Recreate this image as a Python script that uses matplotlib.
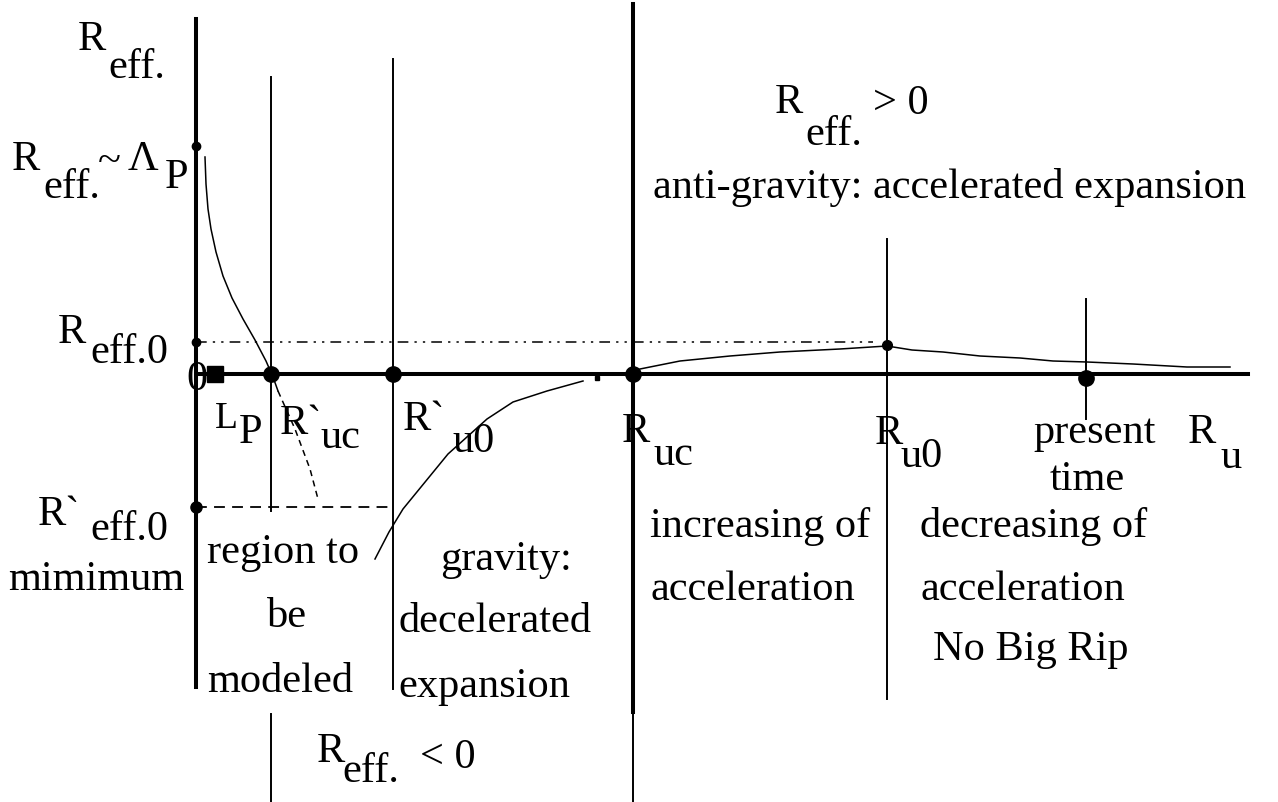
import numpy as np
import matplotlib
matplotlib.use("Agg")
import matplotlib.pyplot as plt

# units: R_u along x, R_eff along y, origin where the two axes cross

# marked radii on the R_u axis
lp_x = 19
ruc_prime_x = 75
ru0_prime_x = 197
ruc_x = 437
ru0_x = 691
present_x = 890
ru0_y = 29
present_y = -4

# marked values on the R_eff axis
reff_planck = 228
reff_0 = 32
reff_0_prime = -133

# vertical guide lines (x, top, bottom)
guide_x = [ruc_prime_x, ru0_prime_x, ru0_x, present_x]
guide_top = [297, 315, 135, 75]
guide_bot = [-137, -315, -325, -45]

# R_eff(R_u) branches
planck_x = [9, 10, 12, 15, 20, 27, 36, 47, 59, 70, 77, 82]
planck_y = [217, 190, 165, 145, 122, 98, 76, 55, 34, 13, -3, -17]
planck_dash_x = [82, 99, 114, 122]
planck_dash_y = [-17, -55, -95, -125]
decel_x = [179, 193, 207, 252, 291, 317, 351, 387]
decel_y = [-185, -158, -135, -80, -45, -28, -17, -7]
accel_x = [437, 444, 484, 534, 584, 644, 691, 716, 747, 784, 824, 857, 891, 937, 991, 1034]
accel_y = [3, 5, 13, 18, 22, 25, 28, 24, 22, 18, 16, 13, 12, 10, 7, 7]

fig = plt.figure(figsize=(12.78, 8.03), dpi=100)
ax = fig.add_axes([0, 0, 1, 1])
ax.set_xlim(-196, 1082)
ax.set_ylim(-428, 375)
ax.axis("off")

k = "black"
# axes
ax.plot([0, 0], [355, -313], color=k, lw=2.9)
ax.plot([0, 1052], [0, 0], color=k, lw=2.9)
ax.plot([ruc_x, ruc_x], [370, -338], color=k, lw=2.9)
ax.plot([ruc_x, ruc_x], [-338, -428], color=k, lw=1.4)
ax.plot([ruc_prime_x, ruc_prime_x], [-340, -428], color=k, lw=1.4)
for x, t, b in zip(guide_x, guide_top, guide_bot):
    ax.plot([x, x], [t, b], color=k, lw=1.4)

# reference levels
ax.plot([0, 677], [reff_0, reff_0], color=k, lw=1.1, dashes=[7, 4, 1.5, 4, 1.5, 4])
ax.plot([0, ru0_prime_x], [reff_0_prime, reff_0_prime], color=k, lw=1.3, dashes=[6, 4])

# curves
ax.plot(planck_x, planck_y, color=k, lw=1.1)
ax.plot(planck_dash_x, planck_dash_y, color=k, lw=1.1, dashes=[4, 3])
ax.plot(decel_x, decel_y, color=k, lw=1.1)
ax.plot(accel_x, accel_y, color=k, lw=1.1)

# points
ax.plot([ruc_prime_x, ru0_prime_x, ruc_x, present_x], [0, 0, 0, present_y],
        "o", color=k, ms=11)
ax.plot([ru0_x], [ru0_y], "o", color=k, ms=7)
ax.plot([0, 0], [reff_planck, reff_0], "o", color=k, ms=6)
ax.plot([0], [reff_0_prime], "o", color=k, ms=8)
ax.plot([lp_x], [0], "s", color=k, ms=11)
ax.plot([401], [-4], "s", color=k, ms=3)

fs = 30.5
tk = dict(color=k, fontsize=fs, family="Liberation Serif", va="baseline", ha="left")


def txt(x, y, s, **kw):
    ax.text(x, y, s, **{**tk, **kw})


# left axis labels
txt(-118, 325, "R"); txt(-88, 297, "eff.")
txt(-184, 205, "R"); txt(-153, 177, "eff."); txt(-98, 203, "~"); txt(-68, 205, "\u039b"); txt(-31, 187, "P")
txt(-138, 32, "R"); txt(-106, 12, "eff.0")
txt(-10, -15, "0")
txt(-158, -150, "R`"); txt(-106, -165, "eff.0")
txt(-188, -215, "mimimum")

# R_u axis labels
txt(19, -53, "L", fontsize=27); txt(43, -68, "P")
txt(84, -59, "R`"); txt(124, -73, "uc")
txt(207, -55, "R`"); txt(256, -77, "u0")
txt(426, -67, "R"); txt(457, -90, "uc")
txt(679, -69, "R"); txt(704, -92, "u0")
txt(837, -68, "present"); txt(854, -115, "time")
txt(992, -68, "R"); txt(1024, -93, "u")

# regions
txt(11, -188, "region to"); txt(71, -252, "be"); txt(11, -317, "modeled")
txt(244, -195, "gravity:"); txt(202, -257, "decelerated"); txt(202, -322, "expansion")
txt(121, -387, "R"); txt(146, -407, "eff."); txt(224, -393, "< 0")
txt(579, 262, "R"); txt(609, 230, "eff."); txt(677, 261, "> 0")
txt(457, 177, "anti-gravity: accelerated expansion")
txt(454, -162, "increasing of"); txt(454, -225, "acceleration")
txt(724, -162, "decreasing of"); txt(724, -225, "acceleration"); txt(737, -285, "No Big Rip")

fig.savefig("out.png", dpi=100)
